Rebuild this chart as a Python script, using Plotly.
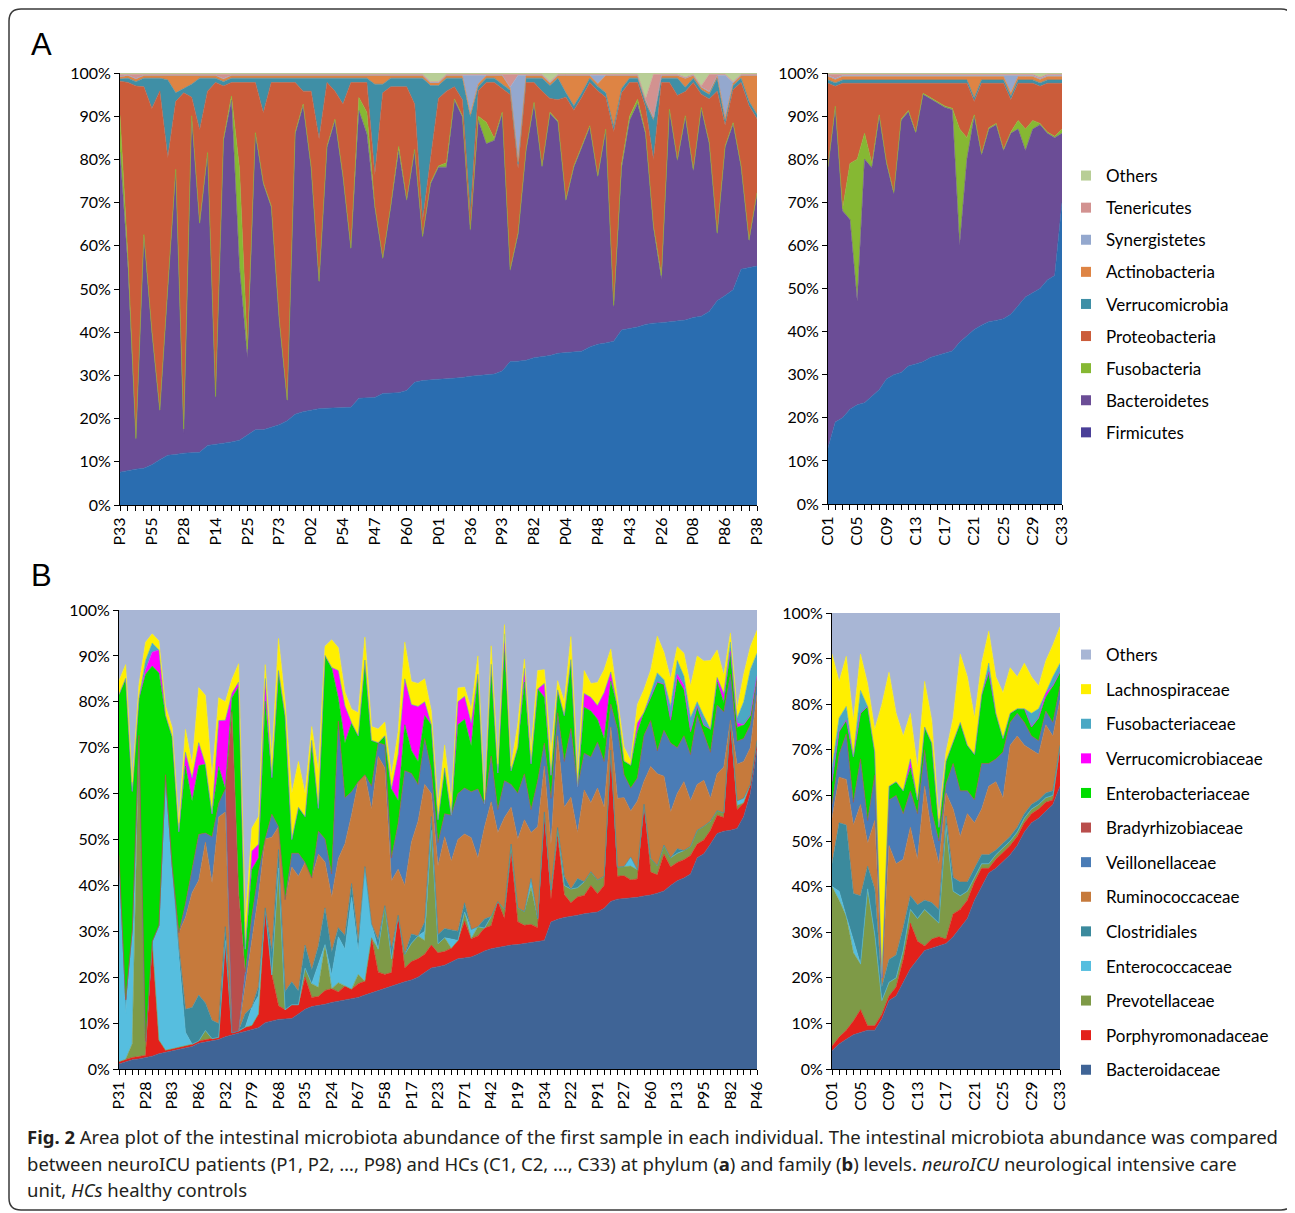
import plotly.graph_objects as go

# The page places the figure 8 px from the window's top-left corner, so the figure is
# sized to fill the rest of the 1295x1213 window and positions are given in window pixels.
OFF = 8
W, H = 1295 - OFF, 1213 - OFF

# ---------------- Panel A : phylum level ----------------
a_patient_ticklabels = ['P33', 'P55', 'P28', 'P14', 'P25', 'P73', 'P02', 'P54', 'P47', 'P60', 'P01',
                        'P36', 'P93', 'P82', 'P04', 'P48', 'P43', 'P26', 'P08', 'P86', 'P38']
control_ticklabels = ['C01', 'C05', 'C09', 'C13', 'C17', 'C21', 'C25', 'C29', 'C33']

phyla = ['Firmicutes', 'Bacteroidetes', 'Fusobacteria', 'Proteobacteria', 'Verrucomicrobia',
         'Actinobacteria', 'Synergistetes', 'Tenericutes', 'Others']

firmicutes_P = [7.6, 8.0, 8.3, 8.5, 9.3, 10.5, 11.5, 11.7, 12.0, 12.1,
                12.2, 13.8, 14.0, 14.3, 14.6, 15.0, 16.2, 17.4, 17.4, 18.0,
                18.6, 19.5, 21.0, 21.6, 22.0, 22.3, 22.4, 22.5, 22.5, 22.6,
                24.7, 24.8, 24.9, 25.8, 25.9, 26.0, 26.5, 28.4, 28.8, 29.0,
                29.1, 29.2, 29.3, 29.5, 29.8, 30.0, 30.2, 30.3, 31.0, 33.2,
                33.3, 33.5, 34.1, 34.3, 34.6, 35.1, 35.3, 35.4, 35.6, 36.6,
                37.2, 37.5, 37.9, 40.5, 40.8, 41.2, 41.8, 42.1, 42.2, 42.4,
                42.6, 42.8, 43.4, 43.7, 44.8, 47.3, 48.5, 49.8, 54.6, 55.0, 55.3]
bacteroidetes_P = [74.1, 47.0, 6.8, 53.8, 30.7, 11.2, 38.5, 65.7, 4.6, 77.7,
                   52.8, 67.5, 10.8, 70.1, 79.1, 40.0, 17.9, 68.5, 56.9, 50.9,
                   24.0, 4.5, 64.9, 70.9, 56.0, 29.2, 60.4, 66.5, 53.4, 36.6,
                   66.6, 61.1, 44.0, 31.1, 43.0, 56.0, 43.9, 53.6, 33.1, 45.3,
                   49.1, 49.0, 64.4, 60.3, 33.7, 59.0, 53.4, 54.1, 59.6, 21.0,
                   29.4, 48.5, 58.8, 43.9, 56.0, 53.5, 35.1, 42.8, 47.2, 50.9,
                   38.7, 49.2, 7.8, 37.5, 48.2, 51.7, 44.1, 22.1, 10.0, 48.9,
                   37.1, 47.0, 34.0, 48.0, 38.8, 15.4, 34.3, 38.4, 23.6, 6.1, 16.7]
fusobacteria_P = [8.5, 2, .3, .3, .3, .3, .3, .3, 1, .3,
                  .3, .3, .3, .3, 1, 23, 2, .3, .3, .3,
                  .3, .3, .3, .3, .3, .3, .3, .3, .3, .3,
                  3, 5, .3, .3, .3, 1, .3, .3, .3, .3,
                  .3, 1, .3, .3, .3, 1, 5, .5, .3, .3,
                  .3, .3, .3, .3, .3, .3, .3, .3, .3, .3,
                  .3, .3, .5, 1, 1, 1, .3, .3, 1, .3,
                  .3, .3, .3, .3, .3, .3, .3, .3, .3, .3, .3]
proteobacteria_P = [7.9, 40.8, 81.6, 34.2, 51.5, 73.8, 30.1, 15.7, 77.8, 4.3,
                    21.5, 14.2, 72.7, 12.3, 3.1, 19.8, 61.7, 11.6, 16.2, 28.6,
                    54.9, 73.5, 11.6, 3.0, 17.5, 33.0, 14.7, 6.5, 16.6, 38.3,
                    3.5, 6.9, 7.2, 38.2, 27.6, 13.8, 26.1, 10.5, 3.6, 5.5,
                    15.6, 16.6, 2.8, 3.7, 3.1, 5.9, 9.2, 12.9, 5.5, 40.5,
                    14.9, 15.5, 4.6, 17.3, 3.2, 4.9, 23.7, 12.9, 11.3, 10.0,
                    19.7, 7.4, 40.2, 16.4, 7.8, 3.9, 5.9, 15.5, 44.6, 6.2,
                    14.8, 5.6, 20.1, 3.1, 10.1, 32.8, 4.8, 7.6, 19.3, 31.0, 17.1]
verrucomicrobia_P = [.5, 1, 1, 2, 7, 3, 18, 2, 1, 3,
                     12, 3, 1, 1, 1, 1, 1, 1, 8, 1,
                     1, 1, 1, 3, 3, 14, 1, 3, 6, 1,
                     1, 1, 21, 2, 2, 2, 2, 6, 33, 17,
                     3, 3, 2, 5, 23, 1, 1, 1, 1, 1,
                     1, 1, 1, 3, 3, 5, 1, 1, 1, 1,
                     1, 1, 1, 1, 1, 1, 1, 9, 1, 1,
                     4, 1, 1, 1, 1, 3, 1, 1, 1, 1, 1]
actinobacteria_P = [.5, .6, .6, .6, .6, .6, 1, 4, 3, 2,
                    .6, .6, .6, .6, .6, .6, .6, .6, .6, .6,
                    .6, .6, .6, .6, .6, .6, .6, .6, .6, .6,
                    .6, .6, 2, 2, .6, .6, .6, .6, .6, .6,
                    .6, .6, .6, .6, .6, .6, .6, .6, 2, .6,
                    .6, .6, .6, .6, .6, .6, 4, 7, 4, .6,
                    .6, 4, 12, 3, .6, .6, .6, .6, .6, .6,
                    .6, 2, .6, .6, .6, .6, .6, .6, .6, 6, 9]
synergistetes_P = [.1, .1, .1, .1, .1, .1, .1, .1, .1, .1,
                   .1, .1, .1, .1, .1, .1, .1, .1, .1, .1,
                   .1, .1, .1, .1, .1, .1, .1, .1, .1, .1,
                   .1, .1, .1, .1, .1, .1, .1, .1, .1, .1,
                   .1, .1, .1, .1, 9, 2, .1, .1, .1, .1,
                   20, .1, .1, .1, .1, .1, .1, .1, .1, .1,
                   2, .1, .1, .1, .1, .1, .1, .1, .1, .1,
                   .1, .1, .1, .1, .1, .1, 10, .1, .1, .1, .1]
tenericutes_P = [.5, .2, 1, .2, .2, .2, .2, .2, .2, .2,
                 .2, .2, .2, 1, .2, .2, .2, .2, .2, .2,
                 .2, .2, .2, .2, .2, .2, .2, .2, .2, .2,
                 .2, .2, .2, .2, .2, .2, .2, .2, .2, .2,
                 .2, .2, .2, .2, .2, .2, .2, .2, .2, 3,
                 .2, .2, .2, .2, .2, .2, .2, .2, .2, .2,
                 .2, .2, .2, .2, .2, .2, .2, 10, .2, .2,
                 .2, .2, .2, .2, 4, .2, .2, .2, .2, .2, .2]
others_phylum_P = [.3, .3, .3, .3, .3, .3, .3, .3, .3, .3,
                   .3, .3, .3, .3, .3, .3, .3, .3, .3, .3,
                   .3, .3, .3, .3, .3, .3, .3, .3, .3, .3,
                   .3, .3, .3, .3, .3, .3, .3, .3, .3, 2,
                   2, .3, .3, .3, .3, .3, .3, .3, .3, .3,
                   .3, .3, .3, .3, 2, .3, .3, .3, .3, .3,
                   .3, .3, .3, .3, .3, .3, 6, .3, .3, .3,
                   .3, 1, .3, 3, .3, .3, .3, 2, .3, .3, .3]

firmicutes_C = [13, 19, 20, 22, 23, 23.5, 25, 26.5, 29, 30, 30.5, 32, 32.5, 33, 34, 34.5, 35,
                35.5, 37.5, 39, 40.5, 41.5, 42.3, 42.6, 43, 44, 46, 48, 49, 50, 52, 53, 70]
bacteroidetes_C = [65, 73, 48, 44, 24, 56.5, 53, 63.5, 50, 42, 58.5, 59, 53.5, 62, 60, 58.5, 57,
                   56, 22.5, 41, 49.5, 39.5, 44.7, 45.4, 39, 42, 41, 34, 38, 38, 34, 32, 16]
fusobacteria_C = [.3, .3, .5, 13, 33, 6, 1, .3, .3, .3, .3, .3, .3, .3, .3, .3, .3,
                  .3, 27, 5, .3, .3, .3, .3, .3, .3, 2, 5, 2, .3, .3, .3, 1]
proteobacteria_C = [19.3, 4.6, 29.1, 18.6, 17.6, 11.6, 18.6, 7.3, 18.3, 25.3, 8.3, 6.3, 11.3, 2.3,
                    3.3, 4.3, 5.3, 5.8, 10.6, 12.6, 3.1, 16.3, 10.3, 9.3, 15.3, 7.5, 8.6, 10.6,
                    8.6, 8.6, 11.3, 12.3, 10.6]
verrucomicrobia_C = [.8, .8, .8, .8, .8, .8, .8, .8, .8, .8, .8, .8, .8, .8, .8, .8, .8,
                     .8, .8, .8, .8, .8, .8, .8, .8, .8, .8, .8, .8, .8, .8, .8, .8]
actinobacteria_C = [.8, .8, .8, .8, .8, .8, .8, .8, .8, .8, .8, .8, .8, .8, .8, .8, .8,
                    .8, .8, .8, 5, .8, .8, .8, .8, .8, .8, .8, .8, .8, .8, .8, .8]
synergistetes_C = [.2, .2, .2, .2, .2, .2, .2, .2, .2, .2, .2, .2, .2, .2, .2, .2, .2,
                   .2, .2, .2, .2, .2, .2, .2, .2, 4, .2, .2, .2, .2, .2, .2, .2]
tenericutes_C = [.3, 1, .3, .3, .3, .3, .3, .3, .3, .3, .3, .3, .3, .3, .3, .3, .3,
                 .3, .3, .3, .3, .3, .3, .3, .3, .3, .3, .3, .3, .3, .3, .3, .3]
others_phylum_C = [.3, .3, .3, .3, .3, .3, .3, .3, .3, .3, .3, .3, .3, .3, .3, .3, .3,
                   .3, .3, .3, .3, .3, .3, .3, .3, .3, .3, .3, .3, 1, .3, .3, .3]

phylum_colors = ['#2A6DB0', '#6B4D96', '#86B833', '#CB5C3A', '#3F8FA6',
                 '#DE8444', '#94A8CE', '#D29290', '#B8CE96']
phylum_legend_colors = ['#4A3F98', '#6B4D96', '#86B833', '#CB5C3A', '#3F8FA6',
                        '#DE8444', '#94A8CE', '#D29290', '#B8CE96']

# ---------------- Panel B : family level ----------------
b_patient_ticklabels = ['P31', 'P28', 'P83', 'P86', 'P32', 'P79', 'P68', 'P35', 'P24', 'P67', 'P58',
                        'P17', 'P23', 'P71', 'P42', 'P19', 'P34', 'P22', 'P91', 'P27', 'P60', 'P13',
                        'P95', 'P82', 'P46']

families = ['Bacteroidaceae', 'Porphyromonadaceae', 'Prevotellaceae', 'Enterococcaceae',
            'Clostridiales', 'Ruminococcaceae', 'Veillonellaceae', 'Bradyrhizobiaceae',
            'Enterobacteriaceae', 'Verrucomicrobiaceae', 'Fusobacteriaceae', 'Lachnospiraceae',
            'Others']

bacteroidaceae_P = [1.1, 1.6, 2.0, 2.2, 2.5, 2.8, 3.3, 3.6, 3.9, 4.2,
                    4.5, 4.9, 5.6, 5.9, 6.1, 6.4, 7.0, 7.4, 7.8, 8.1,
                    8.5, 9.0, 10.1, 10.5, 10.8, 10.9, 11.0, 12.0, 13.0, 13.6,
                    13.8, 14.1, 14.5, 14.8, 15.1, 15.4, 15.6, 16.1, 16.6, 17.1,
                    17.6, 18.0, 18.5, 19.0, 19.4, 20.0, 21.0, 22.0, 22.3, 22.6,
                    23.3, 24.0, 24.2, 24.4, 25.0, 25.7, 26.2, 26.5, 26.8, 27.0,
                    27.1, 27.3, 27.5, 27.8, 28.0, 32.0, 32.6, 33.0, 33.2, 33.5,
                    33.8, 34.0, 34.2, 35.0, 36.5, 37.0, 37.1, 37.2, 37.4, 37.7,
                    37.9, 38.3, 38.8, 40.0, 41.0, 41.6, 42.5, 46.0, 46.9, 49.0,
                    51.3, 51.8, 52.0, 52.4, 55.0, 60.0, 69.6]
porphyromonadaceae_P = [.5, .5, .5, .5, .5, 25, 3, .5, .5, .5,
                        .5, .5, .5, .5, .5, .5, 21, .5, .5, 1,
                        1, 3, 25, 10, 3, 2, 3, 2, 7, 2,
                        2, 3, 3, 2, 3, 2, 3, 3, 12, 4,
                        3, 3, 15, 3, 4, 4, 4, 5, 3, 3,
                        3, 4, 8, 4, 4, 5, 5, 10, 6, 20,
                        5, 4, 4, 3, 28, 5, 18, 5, 3, 4,
                        4, 6, 4, 5, 33, 5, 5, 4, 4, 20,
                        5, 4, 8, 4, 4, 4, 4, 3, 3, 3,
                        4, 3, 24, 4, 3, 2, 2]
prevotellaceae_P = [0, 0, 3, 70, 3, 0, 0, 0, 0, 0,
                    0, 0, 0, 2, 0, 0, 0, 0, 0, 0,
                    0, 0, 0, 0, 30, 0, 0, 0, 2, 3,
                    2, 10, 0, 2, 0, 0, 2, 0, 0, 5,
                    15, 3, 0, 3, 4, 5, 3, 25, 2, 3,
                    0, 0, 2, 0, 2, 0, 2, 0, 2, 2,
                    3, 3, 8, 2, 0, 2, 2, 2, 3, 2,
                    3, 3, 3, 2, 0, 2, 2, 3, 2, 0,
                    3, 2, 2, 2, 2, 2, 2, 3, 3, 2,
                    1, 1, 0, 1, 0, 0, 0]
enterococcaceae_P = [45, 10, 25, 0, 0, 0, 25, 60, 40, 20,
                     3, 0, 0, 0, 0, 0, 0, 0, 0, 0,
                     4, 4, 0, 0, 0, 0, 0, 0, 0, 0,
                     5, 0, 3, 10, 8, 20, 5, 25, 3, 0,
                     0, 0, 0, 0, 0, 0, 2, 0, 0, 0,
                     2, 0, 0, 2, 0, 0, 0, 0, 0, 0,
                     0, 0, 2, 0, 0, 0, 0, 0, 0, 0,
                     0, 0, 0, 0, 0, 0, 0, 2, 0, 0,
                     0, 0, 0, 0, 0, 0, 0, 0, 0, 0,
                     0, 0, 0, 1, 1, 0, 0]
clostridiales_P = [0, 3, 0, 0, 0, 0, 0, 0, 0, 2,
                   5, 8, 10, 6, 4, 3, 3, 0, 0, 3,
                   0, 2, 0, 5, 4, 4, 5, 3, 5, 3,
                   4, 8, 5, 2, 3, 3, 2, 0, 0, 2,
                   0, 2, 0, 0, 2, 0, 2, 3, 2, 2,
                   2, 2, 2, 0, 0, 2, 0, 0, 0, 0,
                   0, 0, 0, 0, 0, 0, 0, 2, 0, 2,
                   0, 0, 0, 0, 0, 0, 0, 0, 0, 0,
                   0, 0, 0, 0, 1, 0, 0, 0, 0, 0,
                   0, 0, 0, 0, 0, 0, 0]
ruminococcaceae_P = [0, 0, 0, 0, 0, 0, 0, 0, 0, 3,
                     20, 25, 25, 35, 30, 45, 25, 0, 0, 6,
                     15, 20, 15, 25, 5, 20, 25, 25, 18, 20,
                     20, 10, 12, 15, 20, 15, 35, 20, 25, 40,
                     30, 15, 10, 15, 20, 25, 30, 5, 15, 20,
                     15, 20, 15, 20, 15, 20, 25, 15, 20, 8,
                     15, 20, 10, 20, 10, 10, 20, 15, 20, 10,
                     20, 15, 20, 15, 5, 15, 15, 10, 15, 5,
                     20, 20, 15, 10, 12, 15, 10, 10, 10, 5,
                     8, 10, 0, 8, 8, 8, 10]
veillonellaceae_P = [0, 0, 0, 0, 0, 0, 0, 0, 0, 0,
                     3, 5, 10, 2, 10, 3, 5, 0, 0, 3,
                     5, 5, 0, 5, 0, 0, 3, 5, 0, 0,
                     5, 5, 5, 30, 10, 5, 0, 0, 5, 3,
                     5, 5, 10, 25, 15, 8, 10, 5, 5, 5,
                     10, 10, 10, 10, 15, 5, 10, 5, 8, 5,
                     10, 10, 5, 10, 5, 10, 5, 10, 15, 10,
                     8, 10, 10, 10, 5, 15, 5, 5, 5, 10,
                     10, 5, 10, 15, 10, 10, 10, 15, 10, 10,
                     15, 12, 10, 5, 5, 5, 3]
bradyrhizobiaceae_P = [0, 0, 0, 0, 0, 0, 0, 0, 0, 0,
                       0, 0, 0, 0, 0, 0, 0, 70, 30, 0,
                       0, 0, 0, 0, 0, 0, 0, 0, 0, 0,
                       0, 0, 0, 0, 0, 0, 0, 0, 0, 0,
                       0, 0, 0, 0, 0, 0, 0, 0, 0, 0,
                       0, 0, 0, 0, 0, 0, 0, 0, 0, 0,
                       0, 0, 0, 0, 0, 0, 0, 0, 0, 0,
                       0, 0, 0, 0, 0, 0, 0, 0, 0, 0,
                       0, 0, 0, 0, 0, 0, 0, 0, 0, 0,
                       0, 0, 0, 0, 0, 0, 0]
enterobacteriaceae_P = [35, 70, 30, 8, 80, 60, 55, 13, 28, 22,
                        30, 15, 15, 15, 5, 8, 0, 3, 45, 5,
                        10, 3, 30, 8, 34, 40, 3, 10, 10, 30,
                        5, 40, 45, 5, 12, 15, 10, 25, 10, 0,
                        2, 15, 5, 10, 5, 5, 5, 10, 5, 10,
                        0, 15, 15, 10, 25, 0, 20, 8, 30, 3,
                        10, 20, 10, 20, 10, 5, 5, 10, 15, 0,
                        10, 10, 5, 5, 5, 5, 3, 5, 10, 5,
                        5, 15, 10, 5, 15, 10, 5, 2, 2, 5,
                        5, 2, 5, 3, 3, 2, 1]
verrucomicrobiaceae_P = [0, 0, 0, 0, 1, 3, 5, 0, 0, 0,
                         3, 5, 5, 0, 0, 10, 15, 1, 1, 0,
                         4, 3, 5, 0, 0, 0, 0, 0, 0, 0,
                         0, 0, 0, 6, 8, 0, 0, 0, 0, 0,
                         0, 0, 10, 10, 10, 12, 3, 0, 0, 0,
                         0, 5, 5, 5, 0, 0, 0, 0, 0, 0,
                         0, 3, 0, 0, 3, 0, 0, 0, 0, 0,
                         3, 3, 3, 10, 2, 0, 0, 0, 2, 0,
                         0, 0, 0, 0, 1, 1, 0, 0, 0, 0,
                         1, 2, 0, 1, 0, 0, 0]
fusobacteriaceae_P = [0, 0, 0, 0, 2, 2, 0, 0, 0, 0,
                      0, 0, 0, 0, 0, 0, 0, 0, 0, 0,
                      0, 0, 0, 0, 0, 0, 0, 0, 0, 0,
                      0, 0, 0, 0, 0, 0, 0, 0, 0, 0,
                      0, 0, 0, 0, 0, 0, 0, 0, 0, 0,
                      0, 0, 0, 0, 0, 0, 0, 0, 2, 0,
                      0, 0, 0, 0, 0, 0, 0, 0, 0, 0,
                      0, 0, 0, 0, 0, 0, 0, 0, 0, 0,
                      1, 2, 1, 3, 3, 2, 3, 1, 2, 0,
                      0, 0, 2, 1, 5, 10, 5]
lachnospiraceae_P = [3, 3, 2, 3, 4, 2, 2, 2, 2, 2,
                     5, 3, 12, 15, 8, 5, 4, 3, 4, 6,
                     5, 6, 3, 4, 7, 3, 10, 10, 5, 3,
                     8, 2, 6, 5, 3, 3, 5, 5, 3, 3,
                     3, 3, 5, 8, 5, 5, 5, 3, 3, 5,
                     3, 3, 2, 3, 4, 1, 4, 2, 2, 1,
                     5, 2, 3, 4, 3, 5, 2, 3, 5, 3,
                     5, 3, 5, 5, 5, 2, 3, 1, 4, 5,
                     5, 8, 6, 6, 3, 5, 7, 10, 12, 15,
                     6, 4, 2, 2, 6, 5, 5]
others_family_P = [15.4, 11.9, 37.5, 16.3, 7, 5.2, 6.7, 20.9, 25.6, 46.3,
                   26, 33.6, 16.9, 18.6, 36.4, 19.1, 20, 15.1, 11.7, 67.9,
                   47.5, 45, 11.9, 32.5, 6.2, 20.1, 40, 33, 40, 25.4,
                   35.2, 7.9, 6.5, 8.2, 17.9, 21.6, 22.4, 5.9, 25.4, 25.9,
                   24.4, 36, 26.5, 7, 15.6, 16, 15, 22, 42.7, 29.4,
                   41.7, 17, 16.8, 21.6, 10, 41.3, 7.8, 33.5, 3.2, 34,
                   24.9, 10.7, 30.5, 13.2, 13, 31, 15.4, 20, 5.8, 35.5,
                   13.2, 16, 15.8, 13, 8.5, 19, 29.9, 32.8, 20.6, 17.3,
                   13.1, 5.7, 9.2, 15, 8, 9.4, 16.5, 10, 11.1, 11,
                   8.7, 14.2, 5, 21.6, 14, 8, 4.4]

bacteroidaceae_C = [4, 5.5, 6.5, 7.5, 8, 8.5, 8.5, 11, 15, 16, 19, 22, 24, 26, 26.5, 27, 27.5,
                    29, 31, 33, 37, 40, 43, 44, 45.5, 47, 49, 52, 54, 55, 56.5, 58, 62]
porphyromonadaceae_C = [1, 1.5, 2, 3, 5, 1, 1, 1, 1, 2, 5, 10, 4, 1, 2, 2, 1,
                        5, 4, 4, 4, 4, 1, 2, 2, 2, 2, 2, 2, 2, 2, 1, 8]
prevotellaceae_C = [35, 30, 25, 15, 10, 30, 20, 3, 3, 2, 2, 3, 5, 8, 5, 3, 25,
                    5, 3, 2, 1, 1, 1, 1, 1, 1, 1, 1, 1, 1, 1, 1, 1]
enterococcaceae_C = [0, 2, 0, 3, 0, 0, 0, 0, 0, 0, 0, 0, 0, 0, 0, 0, 0,
                     0, 0, 0, 0, 0, 0, 0, 0, 0, 0, 0, 0, 0, 0, 0, 0]
clostridiales_C = [5, 15, 20, 10, 15, 5, 10, 3, 5, 5, 5, 3, 3, 2, 3, 3, 2,
                   3, 3, 2, 2, 2, 2, 1, 1, 1, 1, 1, 1, 1, 1, 1, 0]
ruminococcaceae_C = [10, 10, 10, 15, 20, 5, 15, 2, 25, 20, 15, 15, 10, 25, 15, 10, 5,
                     15, 10, 15, 10, 10, 15, 15, 10, 20, 20, 15, 12, 10, 15, 12, 10]
veillonellaceae_C = [3, 5, 10, 5, 10, 5, 10, 0, 10, 15, 10, 8, 10, 8, 5, 5, 2,
                     10, 10, 5, 5, 10, 5, 5, 10, 5, 5, 5, 3, 3, 3, 3, 3]
bradyrhizobiaceae_C = [0, 0, 0, 0, 0, 0, 0, 0, 0, 0, 0, 0, 0, 0, 0, 0, 0,
                       0, 0, 0, 0, 0, 0, 0, 0, 0, 0, 0, 0, 0, 0, 0, 0]
enterobacteriaceae_C = [5, 5, 3, 10, 10, 25, 5, 0, 3, 3, 5, 5, 3, 5, 15, 3, 5,
                        5, 15, 10, 10, 15, 20, 10, 3, 2, 1, 3, 2, 5, 3, 8, 3]
verrucomicrobiaceae_C = [0, 0, 0, 0, 0, 0, 0, 0, 0, 0, 0, 2, 0, 0, 0, 0, 0,
                         0, 0, 0, 0, 0, 0, 0, 0, 0, 0, 0, 0, 0, 1, 0, 0]
fusobacteriaceae_C = [3, 3, 3, 0, 5, 0, 0, 0, 0, 0, 0, 0, 0, 0, 0, 0, 0,
                      0, 0, 0, 0, 0, 2, 0, 0, 0, 0, 0, 3, 2, 0, 2, 2]
lachnospiraceae_C = [25, 8, 11, 8, 8, 5, 5, 60, 25, 15, 12, 10, 7, 10, 5, 2, 2,
                     5, 15, 15, 8, 7, 7, 8, 10, 10, 7, 10, 8, 5, 7, 7, 8]
others_family_C = [9, 15, 9.5, 23.5, 9, 15.5, 25.5, 20, 13, 22, 27, 22, 34, 15, 23.5, 45, 30.5,
                   23, 9, 14, 23, 11, 4, 14, 17.5, 12, 14, 11, 14, 16, 10.5, 7, 3]

family_colors = ['#3F6496', '#E3211B', '#7E9A47', '#56BEDF', '#3B8A9D', '#C67A3C', '#4A7CB6',
                 '#B94E4C', '#00DD00', '#FF00FF', '#4BA8C4', '#FFEF00', '#A8B6D5']

phylum_P = [firmicutes_P, bacteroidetes_P, fusobacteria_P, proteobacteria_P, verrucomicrobia_P,
            actinobacteria_P, synergistetes_P, tenericutes_P, others_phylum_P]
phylum_C = [firmicutes_C, bacteroidetes_C, fusobacteria_C, proteobacteria_C, verrucomicrobia_C,
            actinobacteria_C, synergistetes_C, tenericutes_C, others_phylum_C]
family_P = [bacteroidaceae_P, porphyromonadaceae_P, prevotellaceae_P, enterococcaceae_P,
            clostridiales_P, ruminococcaceae_P, veillonellaceae_P, bradyrhizobiaceae_P,
            enterobacteriaceae_P, verrucomicrobiaceae_P, fusobacteriaceae_P, lachnospiraceae_P,
            others_family_P]
family_C = [bacteroidaceae_C, porphyromonadaceae_C, prevotellaceae_C, enterococcaceae_C,
            clostridiales_C, ruminococcaceae_C, veillonellaceae_C, bradyrhizobiaceae_C,
            enterobacteriaceae_C, verrucomicrobiaceae_C, fusobacteriaceae_C, lachnospiraceae_C,
            others_family_C]

# ---------------- figure ----------------
fig = go.Figure()


def add_stack(series, names, colors, xa, ya, group):
    n = len(series[0])
    xs = list(range(n))
    for k, (vals, name, col) in enumerate(zip(series, names, colors)):
        fig.add_trace(go.Scatter(
            x=xs, y=vals, name=name, mode='lines', stackgroup=group,
            groupnorm='percent' if k == 0 else None,
            line=dict(width=0.6, color=col), fillcolor=col,
            xaxis=xa, yaxis=ya, showlegend=False, hoverinfo='name+y'))


add_stack(phylum_P, phyla, phylum_colors, 'x', 'y', 'A1')
add_stack(phylum_C, phyla, phylum_colors, 'x2', 'y2', 'A2')
add_stack(family_P, families, family_colors, 'x3', 'y3', 'B1')
add_stack(family_C, families, family_colors, 'x4', 'y4', 'B2')

# legend entries (top to bottom as in the reference)
for name, col in zip(phyla[::-1], phylum_legend_colors[::-1]):
    fig.add_trace(go.Scatter(x=[None], y=[None], mode='markers', name=name,
                             marker=dict(symbol='square', size=10, color=col),
                             legend='legend', legendgroup='A_' + name, showlegend=True,
                             xaxis='x', yaxis='y'))
for name, col in zip(families[::-1], family_colors[::-1]):
    fig.add_trace(go.Scatter(x=[None], y=[None], mode='markers', name=name,
                             marker=dict(symbol='square', size=10, color=col),
                             legend='legend2', legendgroup='B_' + name, showlegend=True,
                             xaxis='x3', yaxis='y3'))


def fx(px):
    return (px - OFF) / W


def fy(py):
    return 1 - (py - OFF) / H


def dom_x(a, b):
    return [fx(a), fx(b)]


def dom_y(top, bottom):
    return [fy(bottom), fy(top)]


tick_font = dict(family='Lato', size=16, color='black')
legend_font = dict(family='Lato', size=17, color='black')


def xcfg(domain, n, labels, anchor):
    return dict(domain=domain, anchor=anchor, range=[0, n - 1], automargin=False,
                tickmode='array', tickvals=list(range(0, n, 4)), ticktext=labels,
                tickangle=-90, ticks='outside', ticklen=5, tickwidth=1, tickcolor='black',
                showline=True, linecolor='black', linewidth=1, showgrid=False, zeroline=False,
                tickfont=tick_font,
                minor=dict(tickmode='array', tickvals=list(range(n)), ticks='outside',
                           ticklen=5, tickwidth=1, tickcolor='black', showgrid=False))


def ycfg(domain, anchor):
    return dict(domain=domain, anchor=anchor, range=[0, 100], automargin=False, tickmode='array',
                tickvals=list(range(0, 101, 10)), ticktext=[f'{v}%' for v in range(0, 101, 10)],
                ticks='outside', ticklen=5, tickwidth=1, tickcolor='black',
                showline=True, linecolor='black', linewidth=1, showgrid=False, zeroline=False,
                tickfont=tick_font)


n_a = len(firmicutes_P)
n_c = len(firmicutes_C)
n_b = len(bacteroidaceae_P)

fig.update_layout(
    width=W, height=H, margin=dict(l=0, r=0, t=0, b=0, pad=0, autoexpand=False),
    paper_bgcolor='white', plot_bgcolor='white',
    font=dict(family='Lato', size=15, color='black'),
    xaxis=xcfg(dom_x(120, 757), n_a, a_patient_ticklabels, 'y'),
    yaxis=ycfg(dom_y(73, 505), 'x'),
    xaxis2=xcfg(dom_x(828, 1062), n_c, control_ticklabels, 'y2'),
    yaxis2=ycfg(dom_y(73, 504), 'x2'),
    xaxis3=xcfg(dom_x(119, 757), n_b, b_patient_ticklabels, 'y3'),
    yaxis3=ycfg(dom_y(610, 1069), 'x3'),
    xaxis4=xcfg(dom_x(832, 1060), n_c, control_ticklabels, 'y4'),
    yaxis4=ycfg(dom_y(613, 1069), 'x4'),
    legend=dict(x=fx(1066), y=fy(158), xanchor='left', yanchor='top',
                traceorder='grouped', tracegroupgap=7, bgcolor='rgba(0,0,0,0)',
                font=legend_font),
    legend2=dict(x=fx(1066), y=fy(637), xanchor='left', yanchor='top',
                 traceorder='grouped', tracegroupgap=9.5, bgcolor='rgba(0,0,0,0)',
                 font=legend_font),
)

# panel letters
for letter, ypx in [('A', 44), ('B', 575)]:
    fig.add_annotation(text=letter, x=fx(41), y=fy(ypx), xref='paper', yref='paper',
                       showarrow=False, xanchor='center', yanchor='middle',
                       font=dict(family='Liberation Sans', size=31, color='black'))

# caption
cap_font = dict(family='Noto Sans', size=18.5, color='#231F20')
caption_lines = [
    ('<b>Fig. 2</b> Area plot of the intestinal microbiota abundance of the first sample in each '
     'individual. The intestinal microbiota abundance was compared', 1136),
    ('between neuroICU patients (P1, P2, …, P98) and HCs (C1, C2, …, C33) at phylum (<b>a</b>) and '
     'family (<b>b</b>) levels. <i>neuroICU</i> neurological intensive care', 1163),
    ('unit, <i>HCs</i> healthy controls', 1189),
]
for txt, ypx in caption_lines:
    fig.add_annotation(text=txt, x=fx(25), y=fy(ypx), xref='paper', yref='paper',
                       showarrow=False, xanchor='left', yanchor='middle', align='left',
                       font=cap_font)

# rounded outer frame
x0, x1 = fx(9), fx(1293)
y0, y1 = fy(1210), fy(9)
rx, ry = 12 / W, 12 / H
frame = (f'M {x0 + rx},{y1} L {x1 - rx},{y1} Q {x1},{y1} {x1},{y1 - ry} '
         f'L {x1},{y0 + ry} Q {x1},{y0} {x1 - rx},{y0} L {x0 + rx},{y0} '
         f'Q {x0},{y0} {x0},{y0 + ry} L {x0},{y1 - ry} Q {x0},{y1} {x0 + rx},{y1} Z')
fig.add_shape(type='path', path=frame, xref='paper', yref='paper',
              line=dict(color='#3A3A3A', width=1.5), fillcolor='rgba(0,0,0,0)', layer='above')

fig.write_html('out.html')
